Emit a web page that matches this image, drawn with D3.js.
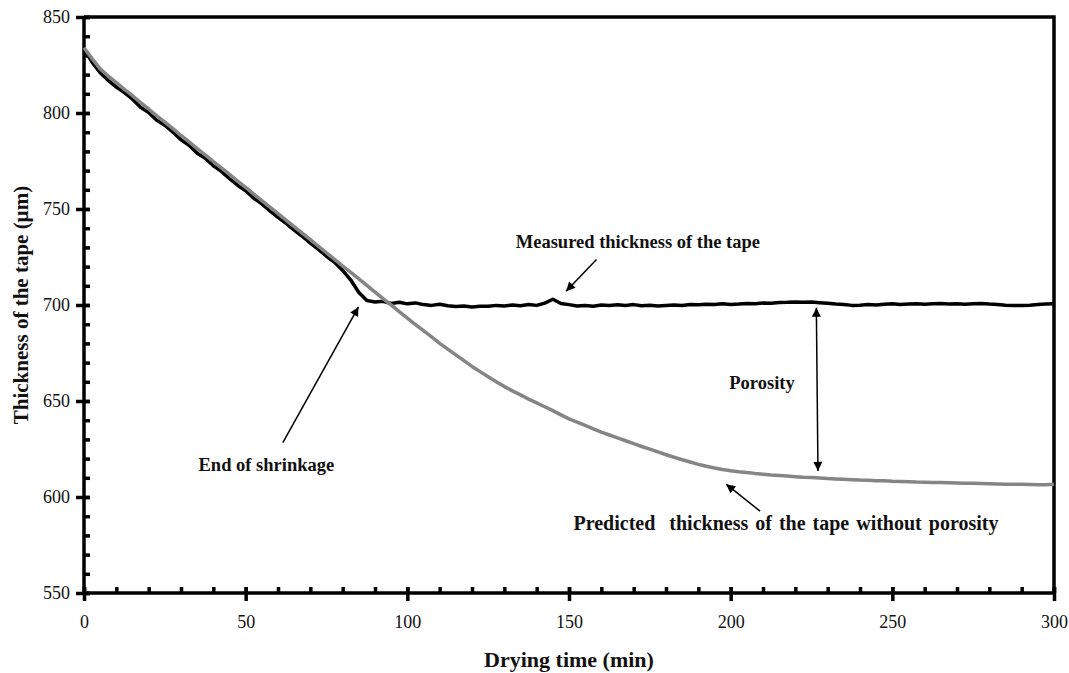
<!DOCTYPE html>
<html>
<head>
<meta charset="utf-8">
<script src="https://cdn.jsdelivr.net/npm/d3@7"></script>
<style>
  html, body { margin: 0; padding: 0; background: #fff; }
  svg { display: block; }
  text { font-family: "Liberation Serif", "Times New Roman", serif; fill: #111; }
</style>
</head>
<body>
<svg id="chart" width="1069" height="673"></svg>
<script>
// Drying time samples (min), every 2.5 min from 0 to 300
const times = d3.range(0, 300.01, 2.5);

// Measured tape thickness (µm)
const measured = [
  833.5, 826.5, 821.0, 817.0, 813.5, 810.6, 807.2, 803.0, 800.3, 796.2,
  793.6, 790.0, 786.1, 783.2, 779.0, 776.4, 772.5, 769.6, 765.8, 762.4,
  759.5, 755.6, 752.7, 749.0, 745.6, 742.5, 739.0, 735.8, 732.2, 729.0,
  725.4, 722.2, 718.0, 713.0, 706.5, 702.3, 701.6, 701.9, 700.8, 701.4,
  700.6, 701.1, 700.2, 699.8, 700.4, 699.6, 699.2, 699.5, 699.0, 699.4,
  699.3, 699.8, 699.5, 700.0, 699.6, 700.3, 699.8, 701.0, 703.0, 700.8,
  700.2, 699.5, 699.8, 699.4, 700.0, 699.7, 700.1, 699.8, 700.2, 699.6,
  699.9, 699.5, 699.8, 700.0, 699.7, 700.3, 700.1, 700.4, 700.2, 700.6,
  700.3, 700.5, 700.8, 700.6, 701.0, 700.9, 701.3, 701.4, 701.6, 701.4,
  701.5, 701.2, 700.9, 700.5, 700.3, 699.8, 699.9, 700.2, 700.0, 700.4,
  700.6, 700.3, 700.5, 700.7, 700.4, 700.6, 700.8, 700.5, 700.7, 700.4,
  700.6, 700.8, 700.5, 700.3, 699.9, 699.8, 699.7, 699.9, 700.2, 700.5,
  700.6
];

// Predicted thickness without porosity (µm)
const predicted = [
  834.0, 828.3, 823.0, 819.2, 815.8, 812.3, 809.0, 805.4, 802.1, 798.5,
  795.2, 791.9, 788.3, 785.0, 781.5, 778.2, 774.7, 771.4, 768.0, 764.5,
  761.2, 757.8, 754.4, 751.0, 747.6, 744.2, 740.8, 737.4, 734.0, 730.6,
  727.1, 723.8, 720.3, 717.0, 713.6, 710.2, 706.7, 703.3, 700.0, 696.6,
  693.2, 689.8, 686.6, 683.4, 680.0, 677.0, 674.0, 671.0, 668.0, 665.3,
  662.6, 660.0, 657.5, 655.3, 653.2, 651.0, 649.0, 647.0, 645.0, 642.8,
  640.7, 639.0, 637.3, 635.5, 633.8, 632.3, 630.8, 629.3, 627.8, 626.3,
  624.9, 623.5, 622.0, 620.7, 619.4, 618.2, 617.0, 616.0, 615.1, 614.3,
  613.7, 613.2, 612.8, 612.3, 611.9, 611.5, 611.2, 610.9, 610.6, 610.3,
  610.1, 609.9, 609.6, 609.4, 609.2, 609.0, 608.8, 608.7, 608.5, 608.4,
  608.2, 608.1, 608.0, 607.8, 607.7, 607.6, 607.5, 607.4, 607.3, 607.2,
  607.1, 607.0, 606.9, 606.8, 606.7, 606.6, 606.6, 606.5, 606.4, 606.4,
  606.6
];

// Axis ticks
const xMajorTicks = [0, 50, 100, 150, 200, 250, 300];
const yMajorTicks = [550, 600, 650, 700, 750, 800, 850];
const xMinorTicks = d3.range(0, 300.01, 10);
const yMinorTicks = d3.range(550, 850.01, 10);

const svg = d3.select("#chart");
const plotLeft = 84, plotRight = 1054, plotTop = 17, plotBottom = 593;

const x = d3.scaleLinear().domain([0, 300]).range([plotLeft, plotRight]);
const y = d3.scaleLinear().domain([550, 850]).range([plotBottom, plotTop]);

// Frame (top and right edges)
svg.append("path")
  .attr("d", `M${plotLeft},${plotTop}H${plotRight}V${plotBottom}`)
  .attr("fill", "none").attr("stroke", "#000").attr("stroke-width", 3.5);

// Minor ticks point into the plot; major ticks cross the axis
svg.append("g").attr("transform", `translate(0,${plotBottom})`)
  .call(d3.axisTop(x).tickValues(xMinorTicks).tickSize(6).tickFormat(""))
  .call(g => g.select(".domain").remove())
  .call(g => g.selectAll("line").attr("stroke-width", 3.5));
svg.append("g").attr("transform", `translate(0,${plotBottom})`)
  .call(d3.axisBottom(x).tickValues(xMajorTicks).tickSize(8).tickPadding(14).tickFormat(d3.format("d")))
  .call(g => g.select(".domain").attr("stroke-width", 3.5).attr("d", `M${plotLeft},0H${plotRight}`))
  .call(g => g.selectAll("line").attr("stroke-width", 3.5).attr("y1", -6))
  .call(g => g.selectAll("text").attr("font-size", 18).attr("font-family", "Liberation Serif").attr("fill", "#111"));

svg.append("g").attr("transform", `translate(${plotLeft},0)`)
  .call(d3.axisRight(y).tickValues(yMinorTicks).tickSize(6).tickFormat(""))
  .call(g => g.select(".domain").remove())
  .call(g => g.selectAll("line").attr("stroke-width", 3.5));
svg.append("g").attr("transform", `translate(${plotLeft},0)`)
  .call(d3.axisLeft(y).tickValues(yMajorTicks).tickSize(8).tickPadding(6).tickFormat(d3.format("d")))
  .call(g => g.select(".domain").attr("stroke-width", 3.5).attr("d", `M0,${plotTop}V${plotBottom}`))
  .call(g => g.selectAll("line").attr("stroke-width", 3.5).attr("x1", 6))
  .call(g => g.selectAll("text").attr("font-size", 18).attr("font-family", "Liberation Serif").attr("fill", "#111"));

// Curves
const line = d3.line().x((d, i) => x(times[i])).y(d => y(d));
svg.append("path").datum(measured)
  .attr("d", line).attr("fill", "none")
  .attr("stroke", "#000").attr("stroke-width", 3.5).attr("stroke-linejoin", "round");
svg.append("path").datum(predicted)
  .attr("d", line).attr("fill", "none")
  .attr("stroke", "#858585").attr("stroke-width", 3.5).attr("stroke-linejoin", "round");

// Arrowhead marker
const defs = svg.append("defs");
defs.append("marker").attr("id", "head")
  .attr("viewBox", "0 0 10 10").attr("refX", 10).attr("refY", 5)
  .attr("markerWidth", 10).attr("markerHeight", 9).attr("markerUnits", "userSpaceOnUse")
  .attr("orient", "auto-start-reverse")
  .append("path").attr("d", "M0,0L10,5L0,10Z").attr("fill", "#000");

// Annotation arrows, in data coordinates
const arrows = [
  { from: [158.5, 723.7], to: [149.1, 707.2], both: false },
  { from: [61.5, 628.3], to: [84.9, 699.0], both: false },
  { from: [209.1, 592.6], to: [198.6, 606.7], both: false },
  { from: [226.5, 698.6], to: [227.0, 613.6], both: true }
];
arrows.forEach(a => {
  const p = svg.append("line")
    .attr("x1", x(a.from[0])).attr("y1", y(a.from[1]))
    .attr("x2", x(a.to[0])).attr("y2", y(a.to[1]))
    .attr("stroke", "#000").attr("stroke-width", 1.5)
    .attr("marker-end", "url(#head)");
  if (a.both) p.attr("marker-start", "url(#head)");
});

// Annotation labels
const notes = [
  { text: "Measured thickness of the tape", t: 171.3, v: 729.5, size: 18.5, gap: 0 },
  { text: "End of shrinkage", t: 56.4, v: 613.5, size: 18.5, gap: 0 },
  { text: "Porosity", t: 209.7, v: 656.4, size: 18.5, gap: 0 },
  { text: "Predicted  thickness of the tape without porosity", t: 217.1, v: 583.0, size: 20, gap: 2 }
];
svg.selectAll("text.note").data(notes).join("text")
  .attr("class", "note")
  .attr("x", d => x(d.t)).attr("y", d => y(d.v))
  .attr("text-anchor", "middle")
  .attr("font-size", d => d.size).attr("font-weight", "bold")
  .style("white-space", "pre")
  .style("word-spacing", d => `${d.gap}px`)
  .text(d => d.text);

// Axis titles
svg.append("text")
  .attr("x", x(150)).attr("y", 667)
  .attr("text-anchor", "middle").attr("font-size", 22).attr("font-weight", "bold")
  .text("Drying time (min)");
svg.append("text")
  .attr("transform", `translate(28,${y(700)}) rotate(-90)`)
  .attr("text-anchor", "middle").attr("font-size", 21).attr("font-weight", "bold")
  .text("Thickness of the tape (µm)");
</script>
</body>
</html>
